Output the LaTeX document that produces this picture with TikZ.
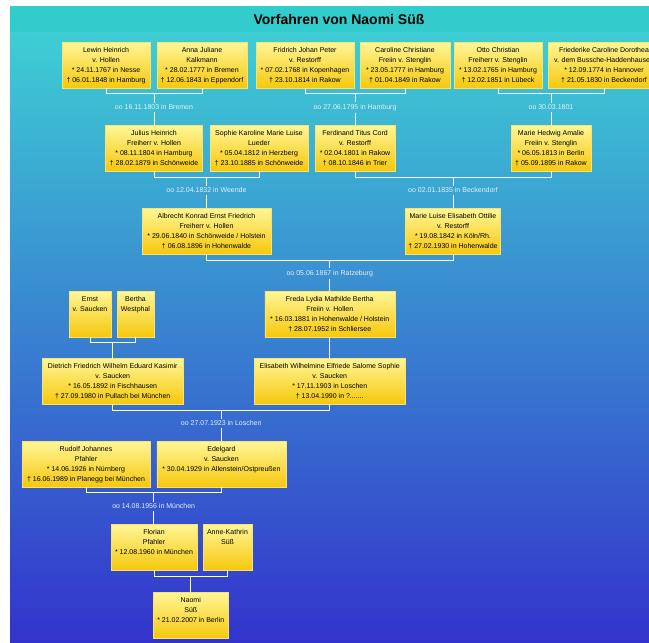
\documentclass[tikz,border=0pt]{standalone}
\usepackage{fontspec}
\setmainfont{Liberation Sans}
\usepackage{xcolor}
\usepackage{tikz}
\usetikzlibrary{positioning, calc}
\definecolor{bgtop}{RGB}{51,204,204}
\definecolor{bgfade}{RGB}{62,206,212}
\definecolor{bgbottom}{RGB}{51,51,204}
\definecolor{boxtop}{RGB}{255,246,150}
\definecolor{boxbottom}{RGB}{246,200,12}
\definecolor{boxedge}{RGB}{250,226,110}
\definecolor{labeltext}{RGB}{228,240,248}
\tikzset{
    person/.style={rectangle, draw=boxedge, line width=0.4pt, top color=boxtop, bottom color=boxbottom, align=center, anchor=north, minimum height=46pt, inner xsep=1pt, inner ysep=2pt, font=\fontsize{7}{10}\selectfont},
    marriage/.style={font=\fontsize{7}{8}\selectfont, text=labeltext, inner sep=2pt},
    link/.style={draw=white, line width=1pt},
    title/.style={font=\bfseries\fontsize{14}{16}\selectfont},
}

\begin{document}
\begin{tikzpicture}[x=1pt, y=-1pt]
    \clip (0,0) rectangle (649,643);
    % BACKGROUND
    \fill[white] (0,0) rectangle (649,643);
    \fill[bgtop] (10,6) rectangle (649,32);
    \shade[top color=bgfade, bottom color=bgbottom] (10,32) rectangle (649,643);
    \node[title] (title) at (339,19) {Vorfahren von Naomi Süß};

    % ROW 1
    \node[person, minimum width=88pt] (lewin) at (106,42) {Lewin Heinrich\\v. Hollen\\* 24.11.1767 in Nesse\\† 06.01.1848 in Hamburg};
    \node[person, minimum width=90pt] (anna) at (202,42) {Anna Juliane\\Kalkmann\\* 28.02.1777 in Bremen\\† 12.06.1843 in Eppendorf};
    \node[person, minimum width=98pt] (fridrich) at (305,42) {Fridrich Johan Peter\\v. Restorff\\* 07.02.1768 in Kopenhagen\\† 23.10.1814 in Rakow};
    \node[person, minimum width=90pt] (caroline) at (405,42) {Caroline Christiane\\Freiin v. Stenglin\\* 23.05.1777 in Hamburg\\† 01.04.1849 in Rakow};
    \node[person, minimum width=88pt] (otto) at (498,42) {Otto Christian\\Freiherr v. Stenglin\\* 13.02.1765 in Hamburg\\† 12.02.1851 in Lübeck};
    \node[person, minimum width=112pt] (friederike) at (604,42) {Friederike Caroline Dorothea\\v. dem Bussche-Haddenhausen\\* 12.09.1774 in Hannover\\† 21.05.1830 in Beckendorf};

    \node[marriage] (m1) at ($(lewin.south)!0.5!(anna.south)+(0,19)$) {oo 16.11.1803 in Bremen};
    \node[marriage] (m2) at ($(fridrich.south)!0.5!(caroline.south)+(0,19)$) {oo 27.06.1795 in Hamburg};
    \node[marriage] (m3) at ($(otto.south)!0.5!(friederike.south)+(0,19)$) {oo 30.03.1801};

    % ROW 2
    \node[person, minimum width=97pt] (julius) at (154,125) {Julius Heinrich\\Freiherr v. Hollen\\* 08.11.1804 in Hamburg\\† 28.02.1879 in Schönweide};
    \node[person, minimum width=98pt] (sophie) at (259,125) {Sophie Karoline Marie Luise\\Lueder\\* 05.04.1812 in Herzberg\\† 23.10.1885 in Schönweide};
    \node[person, minimum width=80pt] (ferdinand) at (355,125) {Ferdinand Titus Cord\\v. Restorff\\* 02.04.1801 in Rakow\\† 08.10.1846 in Trier};
    \node[person, minimum width=80pt] (hedwig) at (551,125) {Marie Hedwig Amalie\\Freiin v. Stenglin\\* 06.05.1813 in Berlin\\† 05.09.1895 in Rakow};

    \node[marriage] (m4) at ($(julius.south)!0.5!(sophie.south)+(0,19)$) {oo 12.04.1832 in Weende};
    \node[marriage] (m5) at ($(ferdinand.south)!0.5!(hedwig.south)+(0,19)$) {oo 02.01.1835 in Beckendorf};

    % ROW 3
    \node[person, minimum width=129pt] (albrecht) at (206.5,208) {Albrecht Konrad Ernst Friedrich\\Freiherr v. Hollen\\* 29.06.1840 in Schönweide / Holstein\\† 06.08.1896 in Hohenwalde};
    \node[person, minimum width=95pt] (luise) at (453,208) {Marie Luise Elisabeth Ottilie\\v. Restorff\\* 19.08.1842 in Köln/Rh.\\† 27.02.1930 in Hohenwalde};

    \node[marriage] (m6) at ($(albrecht.south)!0.5!(luise.south)+(0,19)$) {oo 05.06.1867 in Ratzeburg};

    % ROW 4 AND 5
    \node[person, minimum width=42pt] (ernst) at (90,291) {Ernst\\v. Saucken\\\mbox{}\\\mbox{}};
    \node[person, minimum width=37pt] (bertha) at (135.5,291) {Bertha\\Westphal\\\mbox{}\\\mbox{}};
    \node[person, minimum width=130pt] (freda) at (329.75,291) {Freda Lydia Mathilde Bertha\\Freiin v. Hollen\\* 16.03.1881 in Hohenwalde / Holstein\\† 28.07.1952 in Schliersee};
    \node[person, minimum width=141pt] (dietrich) at (112.75,358) {Dietrich Friedrich Wilhelm Eduard Kasimir\\v. Saucken\\* 16.05.1892 in Fischhausen\\† 27.09.1980 in Pullach bei München};
    \node[person, minimum width=151pt] (elisabeth) at (329.75,358) {Elisabeth Wilhelmine Elfriede Salome Sophie\\v. Saucken\\* 17.11.1903 in Loschen\\† 13.04.1990 in ?.......};

    \node[marriage] (m7) at ($(dietrich.south)!0.5!(elisabeth.south)+(0,19)$) {oo 27.07.1923 in Loschen};

    % ROW 6
    \node[person, minimum width=128pt] (rudolf) at (86,441) {Rudolf Johannes\\Pfahler\\* 14.06.1926 in Nürnberg\\† 16.06.1989 in Planegg bei München};
    \node[person, minimum width=129pt] (edelgard) at (221.4,441) {Edelgard\\v. Saucken\\* 30.04.1929 in Allenstein/Ostpreußen\\\mbox{}};

    \node[marriage] (m8) at ($(rudolf.south)!0.5!(edelgard.south)+(0,19)$) {oo 14.08.1956 in München};

    % ROW 7 AND 8
    \node[person, minimum width=86pt] (florian) at (154,524) {Florian\\Pfahler\\* 12.08.1960 in München\\\mbox{}};
    \node[person, minimum width=49pt] (annek) at (227.5,524) {Anne-Kathrin\\Süß\\\mbox{}\\\mbox{}};
    \node[person, minimum width=75pt] (naomi) at (190.75,592) {Naomi\\Süß\\* 21.02.2007 in Berlin\\\mbox{}};

    % Lines
    \draw[link] (lewin.south) -- ++(0,5) coordinate (b1) -| (anna.south);
    \draw[link] (m1.north |- b1) -- (m1.north);
    \draw[link] (m1.south) -- (m1.south |- julius.north);
    \draw[link] (fridrich.south) -- ++(0,5) coordinate (b2) -| (caroline.south);
    \draw[link] (m2.north |- b2) -- (m2.north);
    \draw[link] (m2.south) -- (m2.south |- ferdinand.north);
    \draw[link] (otto.south) -- ++(0,5) coordinate (b3) -| (friederike.south);
    \draw[link] (m3.north |- b3) -- (m3.north);
    \draw[link] (m3.south) -- (m3.south |- hedwig.north);

    \draw[link] (julius.south) -- ++(0,6) coordinate (b4) -| (sophie.south);
    \draw[link] (m4.north |- b4) -- (m4.north);
    \draw[link] (m4.south) -- (m4.south |- albrecht.north);
    \draw[link] (ferdinand.south) -- ++(0,6) coordinate (b5) -| (hedwig.south);
    \draw[link] (m5.north |- b5) -- (m5.north);
    \draw[link] (m5.south) -- (m5.south |- luise.north);

    \draw[link] (albrecht.south) -- ++(0,6) coordinate (b6) -| (luise.south);
    \draw[link] (m6.north |- b6) -- (m6.north);
    \draw[link] (m6.south) -- (m6.south |- freda.north);

    \draw[link] (ernst.south) -- ++(0,5) coordinate (b9) -| (bertha.south);
    \draw[link] (dietrich.north |- b9) -- (dietrich.north);
    \draw[link] (freda.south) -- (elisabeth.north);

    \draw[link] (dietrich.south) -- ++(0,6) coordinate (b7) -| (elisabeth.south);
    \draw[link] (m7.north |- b7) -- (m7.north);
    \draw[link] (m7.south) -- (m7.south |- edelgard.north);

    \draw[link] (rudolf.south) -- ++(0,5) coordinate (b8) -| (edelgard.south);
    \draw[link] (m8.north |- b8) -- (m8.north);
    \draw[link] (m8.south) -- (m8.south |- florian.north);

    \draw[link] (florian.south) -- ++(0,6) coordinate (b10) -| (annek.south);
    \draw[link] (naomi.north |- b10) -- (naomi.north);
\end{tikzpicture}
\end{document}
